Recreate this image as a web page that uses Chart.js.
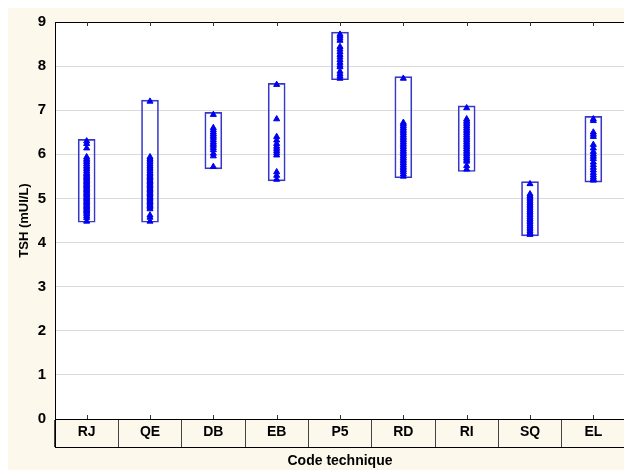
<!DOCTYPE html>
<html>
<head>
<meta charset="utf-8">
<script src="https://cdn.jsdelivr.net/npm/chart.js@4/dist/chart.umd.min.js"></script>
<style>
  html, body { margin: 0; padding: 0; overflow: hidden; background: #fff; }
  #wrap { position: absolute; left: 0; top: 0; width: 630px; height: 470px; }
</style>
</head>
<body>
<div id="wrap"><canvas id="chart"></canvas></div>
<script>
// categories (code technique) and the min/max box of each
var categories = ["RJ", "QE", "DB", "EB", "P5", "RD", "RI", "SQ", "EL"];
var boxLow  = [4.46, 4.46, 5.67, 5.40, 7.69, 5.47, 5.61, 4.15, 5.37];
var boxHigh = [6.34, 7.23, 6.95, 7.61, 8.77, 7.76, 7.10, 5.38, 6.86];

// TSH values (mUI/L) read per category
var tshRJ = [6.30, 6.24, 6.14, 5.94, 5.90, 5.86, 5.82, 5.78, 5.74, 5.70, 5.66, 5.62, 5.58, 5.55, 5.52, 5.49,
  5.46, 5.43, 5.40, 5.37, 5.34, 5.31, 5.28, 5.25, 5.22, 5.19, 5.16, 5.13, 5.10, 5.07, 5.04, 5.01, 4.98,
  4.95, 4.92, 4.89, 4.86, 4.83, 4.80, 4.77, 4.74, 4.71, 4.68, 4.64, 4.60, 4.56, 4.48];
var tshQE = [7.20, 5.94, 5.90, 5.86, 5.82, 5.78, 5.74, 5.70, 5.66, 5.62, 5.58, 5.55, 5.52, 5.49, 5.46,
  5.43, 5.40, 5.37, 5.34, 5.31, 5.28, 5.25, 5.22, 5.19, 5.16, 5.13, 5.10, 5.07, 5.04, 5.01, 4.98, 4.95,
  4.92, 4.89, 4.86, 4.83, 4.80, 4.76, 4.62, 4.57, 4.48];
var tshDB = [6.90, 6.60, 6.55, 6.50, 6.46, 6.42, 6.38, 6.33, 6.28, 6.24, 6.20, 6.15, 6.10, 6.02, 5.96, 5.72];
var tshEB = [7.58, 6.80, 6.40, 6.32, 6.24, 6.18, 6.13, 6.08, 6.03, 5.98, 5.60, 5.52, 5.43];
var tshP5 = [8.72, 8.68, 8.63, 8.58, 8.44, 8.38, 8.32, 8.26, 8.20, 8.14, 8.08, 8.02, 7.98, 7.88, 7.82, 7.77, 7.72];
var tshRD = [7.72, 6.72, 6.68, 6.64, 6.60, 6.56, 6.52, 6.48, 6.44, 6.40, 6.36, 6.32, 6.28, 6.24, 6.20,
  6.16, 6.12, 6.08, 6.04, 6.00, 5.96, 5.92, 5.88, 5.84, 5.80, 5.76, 5.72, 5.68, 5.64, 5.60, 5.55, 5.50];
var tshRI = [7.05, 6.80, 6.76, 6.72, 6.68, 6.64, 6.60, 6.56, 6.52, 6.48, 6.44, 6.40, 6.36, 6.32, 6.28,
  6.24, 6.20, 6.16, 6.12, 6.08, 6.04, 6.00, 5.96, 5.92, 5.88, 5.84, 5.74, 5.66];
var tshSQ = [5.33, 5.10, 5.06, 5.02, 4.98, 4.94, 4.90, 4.86, 4.82, 4.78, 4.74, 4.70, 4.66, 4.62, 4.58,
  4.54, 4.50, 4.46, 4.42, 4.38, 4.34, 4.30, 4.26, 4.22, 4.18];
var tshEL = [6.80, 6.76, 6.50, 6.45, 6.40, 6.22, 6.14, 6.06, 6.00, 5.95, 5.90, 5.82, 5.76, 5.70, 5.64,
  5.58, 5.53, 5.48, 5.44, 5.41];
var yTicks = [0, 1, 2, 3, 4, 5, 6, 7, 8, 9];

var allTsh = [tshRJ, tshQE, tshDB, tshEB, tshP5, tshRD, tshRI, tshSQ, tshEL];
var points = [];
for (var i = 0; i < categories.length; i++) {
  for (var j = 0; j < allTsh[i].length; j++) {
    points.push({x: categories[i], y: allTsh[i][j]});
  }
}
var boxes = [];
for (var k = 0; k < categories.length; k++) boxes.push([boxLow[k], boxHigh[k]]);

var FONT = "'Liberation Sans', Arial, sans-serif";

// cream frame + white plot
var backgroundPlugin = {
  id: "background",
  beforeDraw: function(chart) {
    var ctx = chart.ctx, a = chart.chartArea;
    ctx.save();
    ctx.fillStyle = "#ffffff";
    ctx.fillRect(0, 0, chart.width, chart.height);
    ctx.fillStyle = "#fdf8ec";
    ctx.fillRect(8, 8, chart.width - 8, chart.height - 8);
    ctx.fillStyle = "#ffffff";
    ctx.fillRect(a.left, a.top, a.right - a.left, a.bottom - a.top);
    ctx.restore();
  }
};

// frame lines, table under the plot, inner tick marks
var framePlugin = {
  id: "frame",
  afterDraw: function(chart) {
    var ctx = chart.ctx, a = chart.chartArea, x = chart.scales.x;
    var tableBottom = a.bottom + 28;
    ctx.save();
    ctx.strokeStyle = "#000";
    ctx.lineWidth = 1;
    ctx.beginPath();
    ctx.moveTo(a.left, a.top + 0.5);
    ctx.lineTo(a.right, a.top + 0.5);
    ctx.moveTo(a.left, tableBottom + 0.5);
    ctx.lineTo(a.right, tableBottom + 0.5);
    ctx.moveTo(a.left + 0.5, a.top);
    ctx.lineTo(a.left + 0.5, tableBottom);
    ctx.stroke();
    ctx.strokeStyle = "#333";
    ctx.beginPath();
    for (var i = 0; i < categories.length; i++) {
      var px = Math.round(x.getPixelForTick(i)) + 0.5;
      ctx.moveTo(px, a.top);
      ctx.lineTo(px, a.top + 4);
      ctx.moveTo(px, a.bottom);
      ctx.lineTo(px, a.bottom - 4);
    }
    ctx.stroke();
    ctx.restore();
  }
};

new Chart(document.getElementById("chart"), {
  type: "bar",
  data: {
    labels: categories,
    datasets: [
      {
        type: "line",
        data: points,
        showLine: false,
        pointStyle: "triangle",
        pointRadius: 3.5,
        pointBackgroundColor: "#0000f0",
        pointBorderColor: "#0000f0",
        pointBorderWidth: 1
      },
      {
        type: "bar",
        data: boxes,
        backgroundColor: "rgba(0,0,0,0)",
        borderColor: "#3838c8",
        borderWidth: 1,
        borderSkipped: false,
        barThickness: 17
      }
    ]
  },
  options: {
    responsive: true,
    maintainAspectRatio: false,
    animation: false,
    layout: {padding: {left: 0, top: 22, right: 3, bottom: 0}},
    plugins: {legend: {display: false}, tooltip: {enabled: false}},
    scales: {
      x: {
        type: "category",
        offset: true,
        grid: {
          offset: true,
          drawOnChartArea: false,
          drawTicks: true,
          tickLength: 28,
          color: "#444"
        },
        border: {color: "#000", width: 1},
        ticks: {
          color: "#000",
          padding: -23,
          maxRotation: 0,
          font: {family: FONT, size: 14, weight: "bold"}
        },
        title: {
          display: true,
          text: "Code technique",
          color: "#000",
          padding: {top: 0, bottom: 0},
          font: {family: FONT, size: 14, weight: "bold"}
        },
        afterFit: function(scale) { scale.height = 51; }
      },
      y: {
        min: 0,
        max: 9,
        afterBuildTicks: function(scale) {
          scale.ticks = yTicks.map(function(v) { return {value: v}; });
        },
        grid: {color: "#dadada", drawTicks: false},
        border: {color: "#000", width: 1},
        ticks: {
          color: "#000",
          padding: 9,
          font: {family: FONT, size: 15, weight: "bold"}
        },
        title: {
          display: true,
          text: "TSH (mUI/L)",
          color: "#000",
          padding: {top: 17, bottom: 0},
          font: {family: FONT, size: 13, weight: "bold"}
        },
        afterFit: function(scale) { scale.width = 55; }
      }
    }
  },
  plugins: [backgroundPlugin, framePlugin]
});
</script>
</body>
</html>
